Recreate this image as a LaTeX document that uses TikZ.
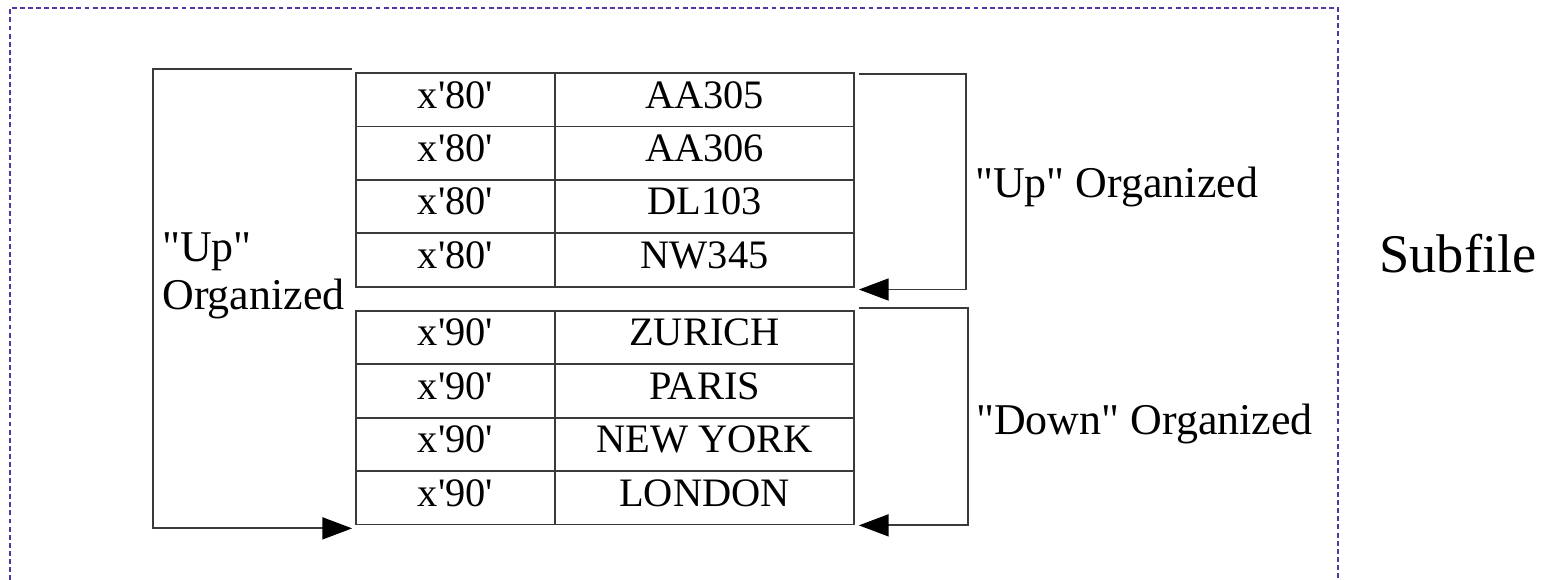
\documentclass[tikz,border=0pt]{standalone}
\usepackage{fontspec}
\setmainfont{Liberation Serif}[Ligatures=TeXOff]
\usetikzlibrary{arrows.meta,calc}
\definecolor{framec}{HTML}{5234A6}
\definecolor{rule}{HTML}{3A3A3A}

\begin{document}
\begin{tikzpicture}[x=0.02cm,y=-0.02cm,
  cell/.style={draw=rule,line width=1pt,inner sep=0pt,minimum height=1.068cm,
    text height=10pt,text depth=.6pt,font=\fontsize{23}{28}\selectfont},
  keycell/.style={cell,minimum width=3.98cm},
  valcell/.style={cell,minimum width=5.98cm},
  lbl/.style={inner sep=0pt,anchor=base west,font=\fontsize{25}{30}\selectfont},
  brk/.style={draw=rule,line width=1.1pt},
  arr/.style={brk,-{Triangle[length=17pt,width=12.5pt,color=black]}}]
  \useasboundingbox (0,0) rectangle (1543,580);
  % dotted frame
  \draw[framec,line width=1.2pt,dash pattern=on 2.8pt off 1.8pt]
     (10,580) -- (10,8) -- (1338,8) -- (1338,580);
  % records
  \foreach \i/\k/\v in {1/80/AA305,2/80/AA306,3/80/DL103,4/80/NW345,
                        5/90/ZURICH,6/90/PARIS,7/90/NEW YORK,8/90/LONDON}{
    \pgfmathsetmacro\yc{\i<5 ? 99.75+53.4*(\i-1) : 337.6+53.4*(\i-5)}
    \node[keycell] (k\i) at (455.5,\yc) {x'\k'};
    \node[valcell] (v\i) at (704.5,\yc) {\v};
  }
  % brackets
  \coordinate (lt) at ($(k1.north west)+(-3,-3)$);
  \coordinate (lb) at ($(k8.south west)+(-3,3)$);
  \draw[arr] (lt) -- ++(-199,0) |- (lb);
  \coordinate (ut) at ($(v1.north east)+(4,2)$);
  \coordinate (ub) at ($(v4.south east)+(4,2)$);
  \draw[arr] (ut) -- ++(107,0) |- (ub);
  \coordinate (dt) at ($(v5.north east)+(4,-2)$);
  \coordinate (db) at ($(v8.south east)+(4,0)$);
  \draw[arr] (dt) -- ++(109,0) |- (db);
  % labels
  \node[lbl] (upr) at (975,198) {"Up" Organized};
  \node[lbl] (dnr) at (976,435) {"Down" Organized};
  \node[lbl] (upl) at (162,262) {"Up"};
  \node[lbl] (orgl) at (162,310) {Organized};
  \node[lbl,font=\fontsize{31}{36}\selectfont] (sub) at (1379,273) {Subfile};
\end{tikzpicture}
\end{document}
